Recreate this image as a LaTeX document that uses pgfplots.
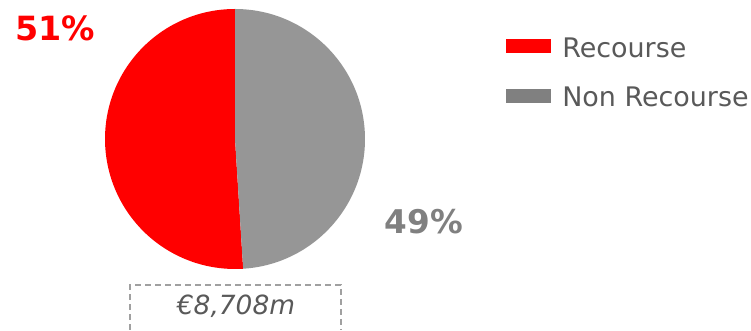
\documentclass[border=0pt]{standalone}
\usepackage{pgfplots}
\pgfplotsset{compat=1.18}
\usepackage{pgfplotstable}
\usepackage{fontspec}
\setmainfont{DejaVu Sans}
\definecolor{recred}{RGB}{255,0,0}
\definecolor{piegray}{RGB}{150,150,150}
\definecolor{leggray}{RGB}{128,128,128}
\definecolor{txtgray}{RGB}{89,89,89}
\definecolor{boxgray}{RGB}{160,160,160}
\pgfplotstableread{
label value
Recourse 51
NonRecourse 49
}\piedata
\pgfplotstablegetelem{0}{value}\of\piedata \edef\va{\pgfplotsretval}
\pgfplotstablegetelem{1}{value}\of\piedata \edef\vb{\pgfplotsretval}
\pgfmathsetmacro{\angA}{90+\va*3.6}
\begin{document}
\begin{tikzpicture}
\begin{axis}[scale only axis, width=563.25pt, height=243pt,
  xmin=0, xmax=751, ymin=0, ymax=324, y dir=reverse,
  hide axis, clip=false]
  \fill[recred] (axis cs:235,139) -- ++(90:97.5pt) arc[start angle=90, end angle=\angA, radius=97.5pt] -- cycle;
  \fill[piegray] (axis cs:235,139) -- ++(\angA:97.5pt) arc[start angle=\angA, end angle=450, radius=97.5pt] -- cycle;
  \node[font=\fontsize{25}{29}\selectfont\bfseries, text=recred] at (axis cs:55,28) {\va\%};
  \node[font=\fontsize{24.5}{29}\selectfont\bfseries, text=leggray] at (axis cs:424,222) {\vb\%};
  \fill[recred] (axis cs:506,39) rectangle (axis cs:551,53);
  \fill[leggray] (axis cs:506,89) rectangle (axis cs:551,103);
  \node[anchor=west, inner sep=0pt, font=\fontsize{20.2}{23}\selectfont, text=txtgray] at (axis cs:562,47.5) {Recourse};
  \node[anchor=west, inner sep=0pt, font=\fontsize{20.2}{23}\selectfont, text=txtgray] at (axis cs:562,96.5) {Non Recourse};
  \draw[boxgray, line width=0.9pt, dash pattern=on 4.5pt off 3pt] (axis cs:130,330) -- (axis cs:130,285) -- (axis cs:341,285) -- (axis cs:341,330);
  \node[font=\fontsize{19.8}{23}\selectfont\itshape, text=txtgray] at (axis cs:236,306) {€8,708m};
\end{axis}
\useasboundingbox (0,0) rectangle (563.25pt,243pt);
\end{tikzpicture}
\end{document}
